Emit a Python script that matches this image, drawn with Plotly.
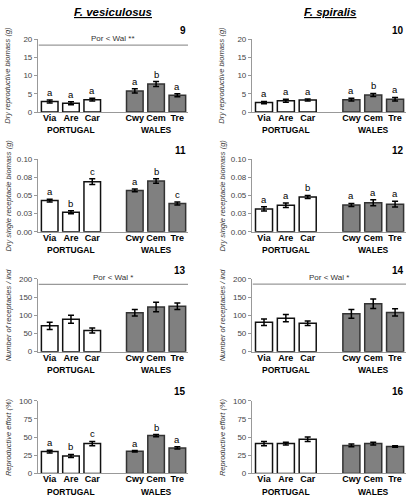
import plotly.graph_objects as go

W, H = 411, 500

sites = ["Via", "Are", "Car", "Cwy", "Cem", "Tre"]
xpos = [0, 1, 2, 4, 5, 6]

# panel values (means, error)
p9_val = [2.9, 2.4, 3.4, 5.8, 7.7, 4.6]
p9_err = [0.4, 0.4, 0.4, 0.6, 0.7, 0.4]
p9_let = ["a", "a", "a", "a", "b", "a"]

p10_val = [2.6, 3.1, 3.3, 3.4, 4.7, 3.5]
p10_err = [0.3, 0.4, 0.3, 0.4, 0.4, 0.5]
p10_let = ["a", "a", "a", "a", "b", "a"]

p11_val = [0.043, 0.027, 0.069, 0.057, 0.070, 0.039]
p11_err = [0.002, 0.002, 0.004, 0.002, 0.003, 0.002]
p11_let = ["a", "b", "c", "a", "b", "c"]

p12_val = [0.0315, 0.0365, 0.048, 0.037, 0.040, 0.038]
p12_err = [0.003, 0.003, 0.002, 0.002, 0.004, 0.004]
p12_let = ["a", "a", "b", "a", "a", "a"]

p13_val = [71, 89, 58, 107, 123, 125]
p13_err = [10, 11, 7, 9, 13, 9]

p14_val = [81, 92, 78, 104, 132, 108]
p14_err = [9, 10, 6, 12, 13, 10]

p15_val = [30, 24, 41, 30.5, 52, 35]
p15_err = [2, 2, 3, 1, 1.5, 1.5]
p15_let = ["a", "b", "c", "a", "b", "a"]

p16_val = [41, 41, 47, 38.5, 41, 37]
p16_err = [3, 2, 3, 2, 2, 1]

y_titles = ["Dry reproductive biomass (g)", "Dry single receptacle biomass (g)",
            "Number of receptacles / ind", "Reproductive effort (%)"]
y_ranges = [[0, 20], [0, 0.1], [0, 200], [0, 100]]
y_tickvals = [[0, 5, 10, 15, 20], [0, 0.025, 0.05, 0.075, 0.1], [0, 50, 100, 150, 200], [0, 25, 50, 75, 100]]
y_ticktext = [["0", "5", "10", "15", "20"], ["0.00", "0.03", "0.05", "0.08", "0.10"],
              ["0", "50", "100", "150", "200"], ["0", "25", "50", "75", "100"]]

panels = [
    (0, 0, "9", p9_val, p9_err, p9_let, "Por < Wal **", 18.4),
    (0, 1, "10", p10_val, p10_err, p10_let, None, None),
    (1, 0, "11", p11_val, p11_err, p11_let, None, None),
    (1, 1, "12", p12_val, p12_err, p12_let, None, None),
    (2, 0, "13", p13_val, p13_err, None, "Por < Wal *", 185),
    (2, 1, "14", p14_val, p14_err, None, "Por < Wal *", 186),
    (3, 0, "15", p15_val, p15_err, p15_let, None, None),
    (3, 1, "16", p16_val, p16_err, None, None, None),
]

col_x = [(38, 188), (252, 406)]
row_y = [(36, 110), (158, 232), (280, 354), (404, 478)]

fig = go.Figure()
annotations = []
shapes = []
FONT = "Liberation Sans, Arial, sans-serif"

for i, (r, c, num, vals, errs, lets, sig, sigy) in enumerate(panels):
    k = i + 1
    xa = "x" if k == 1 else f"x{k}"
    ya = "y" if k == 1 else f"y{k}"
    colors = ["white"] * 3 + ["#808080"] * 3
    lcols = ["#111111"] * 3 + ["#333333"] * 3
    fig.add_trace(go.Bar(
        x=xpos, y=vals, xaxis=xa, yaxis=ya,
        marker=dict(color=colors, line=dict(color=lcols, width=1.5)),
        error_y=dict(type="data", array=errs, color="black", thickness=1.5, width=3),
        showlegend=False, width=0.78, hoverinfo="skip",
    ))
    x0, x1 = col_x[c]
    y0, y1 = row_y[r]
    lay = {}
    lay[("xaxis" if k == 1 else f"xaxis{k}")] = dict(
        domain=[x0 / W, x1 / W], range=[-0.55, 6.5], anchor=ya,
        tickvals=xpos, ticktext=[f"<b>{s}</b>" for s in sites], tickangle=0,
        tickfont=dict(size=9, color="black", family=FONT), ticklabelstandoff=-3,
        showline=True, linecolor="#999999", linewidth=1.2, ticks="",
        showgrid=False, zeroline=False, fixedrange=True,
    )
    lay[("yaxis" if k == 1 else f"yaxis{k}")] = dict(
        domain=[1 - y1 / H, 1 - y0 / H], range=y_ranges[r], anchor=xa,
        tickvals=y_tickvals[r], ticktext=y_ticktext[r],
        tickfont=dict(size=8, color="#444444", family=FONT),
        showline=True, linecolor="#999999", linewidth=1.2, ticks="outside",
        ticklen=3, tickcolor="#999999", showgrid=False, zeroline=False, fixedrange=True,
    )
    fig.update_layout(**lay)
    # panel number
    annotations.append(dict(xref="paper", yref="paper", x=x1 / W, y=1 - (y0 - 9) / H,
                            text=f"<b>{num}</b>", showarrow=False, xanchor="right",
                            yanchor="middle", font=dict(size=10, color="black", family=FONT)))
    # y title
    annotations.append(dict(xref="paper", yref="paper", x=(x0 - 30) / W, y=1 - (y0 + y1) / 2 / H,
                            text=f"<i>{y_titles[r]}</i>", showarrow=False, textangle=-90,
                            xanchor="center", yanchor="middle",
                            font=dict(size=7.5, color="#333333", family=FONT)))
    # group labels
    for gx, gt in [(1, "PORTUGAL"), (5, "WALES")]:
        annotations.append(dict(xref=xa, yref="paper", x=gx, y=1 - (y1 + 18.5) / H,
                                text=f"<b>{gt}</b>", showarrow=False, xanchor="center",
                                yanchor="middle", font=dict(size=8.5, color="black", family=FONT)))
    # letters
    if lets:
        for xv, v, e, l in zip(xpos, vals, errs, lets):
            annotations.append(dict(xref=xa, yref=ya, x=xv, y=v + e, text=l, showarrow=False,
                                    yanchor="bottom", yshift=0,
                                    font=dict(size=9.5, color="black", family=FONT)))
    if sig:
        shapes.append(dict(type="line", xref=f"{xa} domain", yref=ya, x0=0.005, x1=1, y0=sigy, y1=sigy,
                           line=dict(color="#999999", width=1.2)))
        annotations.append(dict(xref=f"{xa} domain", yref=ya, x=0.5, y=sigy, text=sig, showarrow=False,
                                yanchor="bottom", font=dict(size=8, color="#333333", family=FONT)))

# titles
annotations.append(dict(xref="paper", yref="paper", x=113 / W, y=1 - 8 / H,
                        text="<b><i><u>F. vesiculosus</u></i></b>", showarrow=False,
                        xanchor="center", yanchor="middle", font=dict(size=11.5, color="black", family=FONT)))
annotations.append(dict(xref="paper", yref="paper", x=330 / W, y=1 - 8 / H,
                        text="<b><i><u>F. spiralis</u></i></b>", showarrow=False,
                        xanchor="center", yanchor="middle", font=dict(size=11.5, color="black", family=FONT)))

fig.update_layout(width=W, height=H, margin=dict(l=0, r=0, t=0, b=0),
                  paper_bgcolor="white", plot_bgcolor="white",
                  annotations=annotations, shapes=shapes, bargap=0.2,
                  font=dict(family=FONT))
fig.write_html("out.html", config={"displayModeBar": False},
               post_script="document.body.style.margin='0';document.body.style.overflow='hidden';")
